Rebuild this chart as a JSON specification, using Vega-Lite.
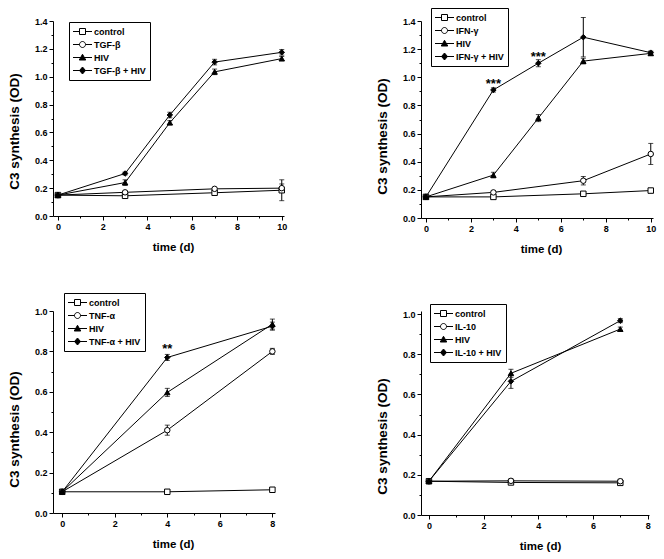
{
  "$schema": "https://vega.github.io/schema/vega-lite/v6.json",
  "background": "white",
  "padding": {"left": 7, "top": 7, "right": 3, "bottom": 3},
  "columns": 2,
  "spacing": {"row": 93, "column": 137},
  "bounds": "flush",
  "data": {"values": [
    {"panel":"TGF","series":"control","t":0,"v":0.15,"err":0},
    {"panel":"TGF","series":"control","t":3,"v":0.145,"err":0.01},
    {"panel":"TGF","series":"control","t":7,"v":0.167,"err":0.01},
    {"panel":"TGF","series":"control","t":10,"v":0.185,"err":0.075},
    {"panel":"TGF","series":"TGF-β","t":0,"v":0.15,"err":0},
    {"panel":"TGF","series":"TGF-β","t":3,"v":0.17,"err":0.01},
    {"panel":"TGF","series":"TGF-β","t":7,"v":0.195,"err":0.01},
    {"panel":"TGF","series":"TGF-β","t":10,"v":0.2,"err":0.03},
    {"panel":"TGF","series":"HIV","t":0,"v":0.15,"err":0},
    {"panel":"TGF","series":"HIV","t":3,"v":0.24,"err":0.02},
    {"panel":"TGF","series":"HIV","t":5,"v":0.67,"err":0.015},
    {"panel":"TGF","series":"HIV","t":7,"v":1.035,"err":0.02},
    {"panel":"TGF","series":"HIV","t":10,"v":1.13,"err":0.015},
    {"panel":"TGF","series":"TGF-β + HIV","t":0,"v":0.15,"err":0},
    {"panel":"TGF","series":"TGF-β + HIV","t":3,"v":0.305,"err":0.01},
    {"panel":"TGF","series":"TGF-β + HIV","t":5,"v":0.725,"err":0.02},
    {"panel":"TGF","series":"TGF-β + HIV","t":7,"v":1.105,"err":0.02},
    {"panel":"TGF","series":"TGF-β + HIV","t":10,"v":1.175,"err":0.02},

    {"panel":"IFN","series":"control","t":0,"v":0.15,"err":0},
    {"panel":"IFN","series":"control","t":3,"v":0.15,"err":0.01},
    {"panel":"IFN","series":"control","t":7,"v":0.172,"err":0.015},
    {"panel":"IFN","series":"control","t":10,"v":0.195,"err":0.015},
    {"panel":"IFN","series":"IFN-γ","t":0,"v":0.15,"err":0},
    {"panel":"IFN","series":"IFN-γ","t":3,"v":0.182,"err":0.01},
    {"panel":"IFN","series":"IFN-γ","t":7,"v":0.265,"err":0.03},
    {"panel":"IFN","series":"IFN-γ","t":10,"v":0.455,"err":0.075},
    {"panel":"IFN","series":"HIV","t":0,"v":0.15,"err":0},
    {"panel":"IFN","series":"HIV","t":3,"v":0.305,"err":0.02},
    {"panel":"IFN","series":"HIV","t":5,"v":0.71,"err":0.025},
    {"panel":"IFN","series":"HIV","t":7,"v":1.115,"err":0.02},
    {"panel":"IFN","series":"HIV","t":10,"v":1.17,"err":0.015},
    {"panel":"IFN","series":"IFN-γ + HIV","t":0,"v":0.15,"err":0},
    {"panel":"IFN","series":"IFN-γ + HIV","t":3,"v":0.91,"err":0.015,"note":"***"},
    {"panel":"IFN","series":"IFN-γ + HIV","t":5,"v":1.1,"err":0.025,"note":"***"},
    {"panel":"IFN","series":"IFN-γ + HIV","t":7,"v":1.285,"err":0.14},
    {"panel":"IFN","series":"IFN-γ + HIV","t":10,"v":1.175,"err":0.01},

    {"panel":"TNF","series":"control","t":0,"v":0.105,"err":0},
    {"panel":"TNF","series":"control","t":4,"v":0.105,"err":0.01},
    {"panel":"TNF","series":"control","t":8,"v":0.115,"err":0.01},
    {"panel":"TNF","series":"TNF-α","t":0,"v":0.105,"err":0},
    {"panel":"TNF","series":"TNF-α","t":4,"v":0.41,"err":0.025},
    {"panel":"TNF","series":"TNF-α","t":8,"v":0.8,"err":0.015},
    {"panel":"TNF","series":"HIV","t":0,"v":0.105,"err":0},
    {"panel":"TNF","series":"HIV","t":4,"v":0.597,"err":0.02},
    {"panel":"TNF","series":"HIV","t":8,"v":0.935,"err":0.025},
    {"panel":"TNF","series":"TNF-α + HIV","t":0,"v":0.105,"err":0},
    {"panel":"TNF","series":"TNF-α + HIV","t":4,"v":0.77,"err":0.015,"note":"**"},
    {"panel":"TNF","series":"TNF-α + HIV","t":8,"v":0.925,"err":0.02},

    {"panel":"IL10","series":"control","t":0,"v":0.168,"err":0},
    {"panel":"IL10","series":"control","t":3,"v":0.162,"err":0.01},
    {"panel":"IL10","series":"control","t":7,"v":0.16,"err":0.01},
    {"panel":"IL10","series":"IL-10","t":0,"v":0.168,"err":0},
    {"panel":"IL10","series":"IL-10","t":3,"v":0.17,"err":0.01},
    {"panel":"IL10","series":"IL-10","t":7,"v":0.168,"err":0.01},
    {"panel":"IL10","series":"HIV","t":0,"v":0.168,"err":0},
    {"panel":"IL10","series":"HIV","t":3,"v":0.705,"err":0.02},
    {"panel":"IL10","series":"HIV","t":7,"v":0.925,"err":0.01},
    {"panel":"IL10","series":"IL-10 + HIV","t":0,"v":0.168,"err":0},
    {"panel":"IL10","series":"IL-10 + HIV","t":3,"v":0.665,"err":0.035},
    {"panel":"IL10","series":"IL-10 + HIV","t":7,"v":0.967,"err":0.01}
  ]},
  "concat": [
    {
      "width": 231, "height": 195,
      "transform": [{"filter": "datum.panel === 'TGF'"}],
      "encoding": {
        "x": {"field": "t", "type": "quantitative", "scale": {"domain": [-0.22, 10.1], "nice": false, "zero": false},
          "axis": {"title": "time (d)", "titleX": 120, "values": [0,1,2,3,4,5,6,7,8,9,10],
            "labelExpr": "datum.value % 2 === 0 ? datum.label : ''",
            "tickSize": {"condition": {"test": "datum.value % 2 !== 0", "value": 2}, "value": 4}}},
        "y": {"field": "v", "type": "quantitative", "scale": {"domain": [0, 1.4], "nice": false},
          "axis": {"title": "C3 synthesis (OD)", "titleY": 110, "values": [0,0.1,0.2,0.3,0.4,0.5,0.6,0.7,0.8,0.9,1,1.1,1.2,1.3,1.4],
            "labelExpr": "round(datum.value*10) % 2 === 0 ? format(datum.value, '.1f') : ''",
            "tickSize": {"condition": {"test": "round(datum.value*10) % 2 !== 0", "value": 2}, "value": 4}}}
      },
      "layer": [
        {"mark": {"type": "line", "color": "black", "strokeWidth": 1}, "encoding": {"detail": {"field": "series"}}},
        {"transform": [{"filter": "datum.err > 0"}], "mark": {"type": "errorbar", "ticks": true, "color": "black"}, "encoding": {"yError": {"field": "err"}}},
        {"mark": {"type": "point", "filled": true, "stroke": "black", "strokeWidth": 1, "size": 30, "opacity": 1},
          "encoding": {
            "shape": {"field": "series", "scale": {"domain": ["control","TGF-β","HIV","TGF-β + HIV"], "range": ["square","circle","triangle-up","diamond"]}, "legend": null},
            "fill": {"field": "series", "scale": {"domain": ["control","TGF-β","HIV","TGF-β + HIV"], "range": ["white","white","black","black"]}, "legend": null}}},
        {"mark": {"type": "point", "filled": true, "stroke": "black", "strokeWidth": 1, "size": 0, "opacity": 1},
          "encoding": {
            "shape": {"field": "series", "scale": {"domain": ["control","TGF-β","HIV","TGF-β + HIV"], "range": ["M-1.9,0H-0.6M0.6,0H1.9M-0.6,-0.6H0.6V0.6H-0.6Z","M-1.9,0H-0.6M0.6,0H1.9M-0.6,0A0.6,0.6 0 1,0 0.6,0A0.6,0.6 0 1,0 -0.6,0Z","M-1.9,0H1.9M-0.65,0.5L0,-0.65L0.65,0.5Z","M-1.9,0H1.9M0,-0.7L0.6,0L0,0.7L-0.6,0Z"]},
              "legend": {"orient": "none", "legendX": 16, "legendY": 1, "title": null}},
            "fill": {"field": "series", "scale": {"domain": ["control","TGF-β","HIV","TGF-β + HIV"], "range": ["white","white","black","black"]},
              "legend": {"orient": "none", "legendX": 16, "legendY": 1, "title": null}}}}
      ],
      "resolve": {"scale": {"shape": "independent", "fill": "independent"}, "legend": {"shape": "independent", "fill": "independent"}}
    },
    {
      "width": 232, "height": 197,
      "transform": [{"filter": "datum.panel === 'IFN'"}],
      "encoding": {
        "x": {"field": "t", "type": "quantitative", "scale": {"domain": [-0.22, 10.1], "nice": false, "zero": false},
          "axis": {"title": "time (d)", "titleX": 120, "values": [0,1,2,3,4,5,6,7,8,9,10],
            "labelExpr": "datum.value % 2 === 0 ? datum.label : ''",
            "tickSize": {"condition": {"test": "datum.value % 2 !== 0", "value": 2}, "value": 4}}},
        "y": {"field": "v", "type": "quantitative", "scale": {"domain": [0, 1.4], "nice": false},
          "axis": {"title": "C3 synthesis (OD)", "titleY": 115, "values": [0,0.1,0.2,0.3,0.4,0.5,0.6,0.7,0.8,0.9,1,1.1,1.2,1.3,1.4],
            "labelExpr": "round(datum.value*10) % 2 === 0 ? format(datum.value, '.1f') : ''",
            "tickSize": {"condition": {"test": "round(datum.value*10) % 2 !== 0", "value": 2}, "value": 4}}}
      },
      "layer": [
        {"mark": {"type": "line", "color": "black", "strokeWidth": 1}, "encoding": {"detail": {"field": "series"}}},
        {"transform": [{"filter": "datum.err > 0"}], "mark": {"type": "errorbar", "ticks": true, "color": "black"}, "encoding": {"yError": {"field": "err"}}},
        {"mark": {"type": "point", "filled": true, "stroke": "black", "strokeWidth": 1, "size": 30, "opacity": 1},
          "encoding": {
            "shape": {"field": "series", "scale": {"domain": ["control","IFN-γ","HIV","IFN-γ + HIV"], "range": ["square","circle","triangle-up","diamond"]}, "legend": null},
            "fill": {"field": "series", "scale": {"domain": ["control","IFN-γ","HIV","IFN-γ + HIV"], "range": ["white","white","black","black"]}, "legend": null}}},
        {"mark": {"type": "point", "filled": true, "stroke": "black", "strokeWidth": 1, "size": 0, "opacity": 1},
          "encoding": {
            "shape": {"field": "series", "scale": {"domain": ["control","IFN-γ","HIV","IFN-γ + HIV"], "range": ["M-1.9,0H-0.6M0.6,0H1.9M-0.6,-0.6H0.6V0.6H-0.6Z","M-1.9,0H-0.6M0.6,0H1.9M-0.6,0A0.6,0.6 0 1,0 0.6,0A0.6,0.6 0 1,0 -0.6,0Z","M-1.9,0H1.9M-0.65,0.5L0,-0.65L0.65,0.5Z","M-1.9,0H1.9M0,-0.7L0.6,0L0,0.7L-0.6,0Z"]},
              "legend": {"orient": "none", "legendX": 10, "legendY": -13, "title": null}},
            "fill": {"field": "series", "scale": {"domain": ["control","IFN-γ","HIV","IFN-γ + HIV"], "range": ["white","white","black","black"]},
              "legend": {"orient": "none", "legendX": 10, "legendY": -13, "title": null}}}},
        {"transform": [{"filter": "datum.note"}], "mark": {"type": "text", "font": "Liberation Sans", "fontWeight": "bold", "fontSize": 13, "baseline": "alphabetic", "dy": -2, "color": "black"},
          "encoding": {"text": {"field": "note"}}}
      ],
      "resolve": {"scale": {"shape": "independent", "fill": "independent"}, "legend": {"shape": "independent", "fill": "independent"}}
    },
    {
      "width": 222, "height": 202,
      "transform": [{"filter": "datum.panel === 'TNF'"}],
      "encoding": {
        "x": {"field": "t", "type": "quantitative", "scale": {"domain": [-0.35, 8.1], "nice": false, "zero": false},
          "axis": {"title": "time (d)", "titleX": 120, "values": [0,1,2,3,4,5,6,7,8],
            "labelExpr": "datum.value % 2 === 0 ? datum.label : ''",
            "tickSize": {"condition": {"test": "datum.value % 2 !== 0", "value": 2}, "value": 4}}},
        "y": {"field": "v", "type": "quantitative", "scale": {"domain": [0, 1], "nice": false},
          "axis": {"title": "C3 synthesis (OD)", "titleY": 118, "values": [0,0.1,0.2,0.3,0.4,0.5,0.6,0.7,0.8,0.9,1],
            "labelExpr": "round(datum.value*10) % 2 === 0 ? format(datum.value, '.1f') : ''",
            "tickSize": {"condition": {"test": "round(datum.value*10) % 2 !== 0", "value": 2}, "value": 4}}}
      },
      "layer": [
        {"mark": {"type": "line", "color": "black", "strokeWidth": 1}, "encoding": {"detail": {"field": "series"}}},
        {"transform": [{"filter": "datum.err > 0"}], "mark": {"type": "errorbar", "ticks": true, "color": "black"}, "encoding": {"yError": {"field": "err"}}},
        {"mark": {"type": "point", "filled": true, "stroke": "black", "strokeWidth": 1, "size": 30, "opacity": 1},
          "encoding": {
            "shape": {"field": "series", "scale": {"domain": ["control","TNF-α","HIV","TNF-α + HIV"], "range": ["square","circle","triangle-up","diamond"]}, "legend": null},
            "fill": {"field": "series", "scale": {"domain": ["control","TNF-α","HIV","TNF-α + HIV"], "range": ["white","white","black","black"]}, "legend": null}}},
        {"mark": {"type": "point", "filled": true, "stroke": "black", "strokeWidth": 1, "size": 0, "opacity": 1},
          "encoding": {
            "shape": {"field": "series", "scale": {"domain": ["control","TNF-α","HIV","TNF-α + HIV"], "range": ["M-1.9,0H-0.6M0.6,0H1.9M-0.6,-0.6H0.6V0.6H-0.6Z","M-1.9,0H-0.6M0.6,0H1.9M-0.6,0A0.6,0.6 0 1,0 0.6,0A0.6,0.6 0 1,0 -0.6,0Z","M-1.9,0H1.9M-0.65,0.5L0,-0.65L0.65,0.5Z","M-1.9,0H1.9M0,-0.7L0.6,0L0,0.7L-0.6,0Z"]},
              "legend": {"orient": "none", "legendX": 11, "legendY": -18, "title": null}},
            "fill": {"field": "series", "scale": {"domain": ["control","TNF-α","HIV","TNF-α + HIV"], "range": ["white","white","black","black"]},
              "legend": {"orient": "none", "legendX": 11, "legendY": -18, "title": null}}}},
        {"transform": [{"filter": "datum.note"}], "mark": {"type": "text", "font": "Liberation Sans", "fontWeight": "bold", "fontSize": 13, "baseline": "alphabetic", "dy": -4, "color": "black"},
          "encoding": {"text": {"field": "note"}}}
      ],
      "resolve": {"scale": {"shape": "independent", "fill": "independent"}, "legend": {"shape": "independent", "fill": "independent"}}
    },
    {
      "width": 228, "height": 204,
      "transform": [{"filter": "datum.panel === 'IL10'"}],
      "encoding": {
        "x": {"field": "t", "type": "quantitative", "scale": {"domain": [-0.29, 8.05], "nice": false, "zero": false},
          "axis": {"title": "time (d)", "titleX": 119, "values": [0,1,2,3,4,5,6,7,8],
            "labelExpr": "datum.value % 2 === 0 ? datum.label : ''",
            "tickSize": {"condition": {"test": "datum.value % 2 !== 0", "value": 2}, "value": 4}}},
        "y": {"field": "v", "type": "quantitative", "scale": {"domain": [0, 1.015], "nice": false},
          "axis": {"title": "C3 synthesis (OD)", "titleY": 125, "values": [0,0.1,0.2,0.3,0.4,0.5,0.6,0.7,0.8,0.9,1],
            "labelExpr": "round(datum.value*10) % 2 === 0 ? format(datum.value, '.1f') : ''",
            "tickSize": {"condition": {"test": "round(datum.value*10) % 2 !== 0", "value": 2}, "value": 4}}}
      },
      "layer": [
        {"mark": {"type": "line", "color": "black", "strokeWidth": 1}, "encoding": {"detail": {"field": "series"}}},
        {"transform": [{"filter": "datum.err > 0"}], "mark": {"type": "errorbar", "ticks": true, "color": "black"}, "encoding": {"yError": {"field": "err"}}},
        {"mark": {"type": "point", "filled": true, "stroke": "black", "strokeWidth": 1, "size": 30, "opacity": 1},
          "encoding": {
            "shape": {"field": "series", "scale": {"domain": ["control","IL-10","HIV","IL-10 + HIV"], "range": ["square","circle","triangle-up","diamond"]}, "legend": null},
            "fill": {"field": "series", "scale": {"domain": ["control","IL-10","HIV","IL-10 + HIV"], "range": ["white","white","black","black"]}, "legend": null}}},
        {"mark": {"type": "point", "filled": true, "stroke": "black", "strokeWidth": 1, "size": 0, "opacity": 1},
          "encoding": {
            "shape": {"field": "series", "scale": {"domain": ["control","IL-10","HIV","IL-10 + HIV"], "range": ["M-1.9,0H-0.6M0.6,0H1.9M-0.6,-0.6H0.6V0.6H-0.6Z","M-1.9,0H-0.6M0.6,0H1.9M-0.6,0A0.6,0.6 0 1,0 0.6,0A0.6,0.6 0 1,0 -0.6,0Z","M-1.9,0H1.9M-0.65,0.5L0,-0.65L0.65,0.5Z","M-1.9,0H1.9M0,-0.7L0.6,0L0,0.7L-0.6,0Z"]},
              "legend": {"orient": "none", "legendX": 9, "legendY": -7, "title": null}},
            "fill": {"field": "series", "scale": {"domain": ["control","IL-10","HIV","IL-10 + HIV"], "range": ["white","white","black","black"]},
              "legend": {"orient": "none", "legendX": 9, "legendY": -7, "title": null}}}}
      ],
      "resolve": {"scale": {"shape": "independent", "fill": "independent"}, "legend": {"shape": "independent", "fill": "independent"}}
    }
  ],
  "config": {
    "font": "Liberation Sans",
    "view": {"stroke": null},
    "axis": {
      "domainColor": "black", "domainWidth": 1, "tickColor": "black", "tickWidth": 1,
      "labelColor": "black", "labelFont": "Liberation Sans", "labelFontWeight": "bold", "labelFontSize": 9,
      "labelPadding": 2, "labelOverlap": false, "labelFlush": false,
      "titleFont": "Liberation Sans", "titleFontWeight": "bold", "titleColor": "black", "grid": false
    },
    "axisX": {"titleFontSize": 11.5, "titlePadding": 10},
    "axisY": {"titleFontSize": 13.5, "titlePadding": 13},
    "legend": {
      "fillColor": "white", "strokeColor": "black", "padding": 4,
      "labelFont": "Liberation Sans", "labelFontWeight": "bold", "labelFontSize": 9, "labelColor": "black",
      "symbolSize": 100, "symbolStrokeWidth": 1, "symbolOffset": 4, "labelOffset": 6, "rowPadding": 2
    }
  }
}
